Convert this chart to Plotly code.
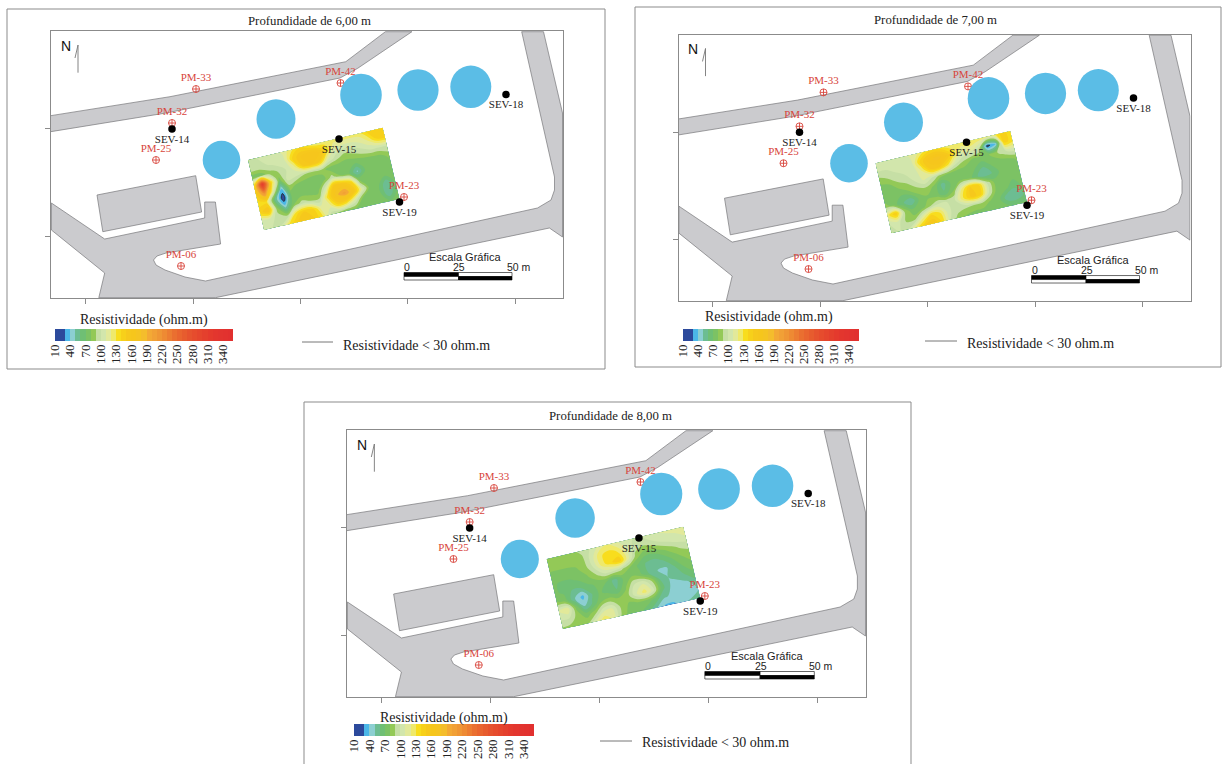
import numpy as np
import plotly.graph_objects as go

# ---- map features, in map units (shared by the three panels) ----
road_north_x = [50.6, 170, 345.8, 385.4, 411.9, 357.7, 340, 166, 50.6]
road_north_y = [115.7, 96.7, 61.7, 31.7, 31.7, 68.3, 78, 113, 131.7]
road_main_x = [521.7, 537.5, 554.5, 554.5, 551, 537.5, 205.5, 185, 165, 156, 153.5, 157, 166, 220.6, 215.4, 204.7, 204.7, 104.7, 51.4, 51.4, 104.7, 98.8, 215.4, 549.4, 562.5, 562.5, 543.5, 521.7]
road_main_y = [31.7, 103, 177, 190, 200, 208, 281, 277, 270, 265, 260, 256, 253, 244, 202, 202, 218, 239, 203, 230, 273, 297.7, 297.7, 228, 237, 113, 31.7, 31.7]
building_x = [97, 195.7, 201.6, 102.8, 97]
building_y = [195, 175.7, 212, 231.7, 195]

lake_x = [221.5, 276, 361, 418, 470.8]
lake_y = [160, 119, 95, 90, 86.8]
lake_rx = [18.8, 19.5, 20.8, 20.6, 20.5]
lake_ry = [19.2, 19.8, 21.3, 20.8, 21.2]

pm_names = ["PM-33", "PM-42", "PM-32", "PM-25", "PM-06", "PM-23"]
pm_x = [196, 340.5, 172, 156, 181, 404]
pm_y = [89, 83, 123, 160, 266, 197]
sev_names = ["SEV-14", "SEV-15", "SEV-18", "SEV-19"]
sev_x = [172, 339, 506, 399.5]
sev_y = [129, 139, 94.5, 202]

# survey block corners (NW, NE, SW, SE)
corner_nw = (248, 160)
corner_ne = (382.7, 127.7)
corner_sw = (264, 230)
corner_se = (399.5, 199)

# ---- resistivity (ohm.m): rows north to south, columns west to east ----
z_6m = [
 [100,100,105,105,112,125,140,130,122,125,125,125,125,125,140,150,150],
 [100,100,100,105,105,140,160,170,165,140,110,105,105,110,120,140,145],
 [74,72,85,90,100,115,150,160,150,110,95,85,90,95,100,100,100],
 [140,300,140,75,105,100,90,85,85,74,74,74,72,74,74,75,85],
 [150,210,115,40,85,75,72,72,75,95,80,72,48,72,74,74,74],
 [135,135,60,20,72,74,74,72,105,160,160,140,80,72,72,74,74],
 [145,160,85,45,80,95,90,90,135,175,195,165,115,74,72,50,72],
 [105,105,95,90,135,150,145,115,115,145,140,110,75,74,72,50,72],
 [105,100,100,130,150,160,150,130,95,85,75,75,75,74,74,72,72],
]
z_7m = [
 [105,105,105,108,112,120,135,140,130,125,125,128,128,125,125,145,135],
 [100,100,102,105,105,140,165,175,165,135,112,115,100,25,40,145,135],
 [85,90,98,100,102,120,150,155,135,105,90,80,78,80,90,100,105],
 [74,75,85,90,100,112,100,85,78,74,74,72,62,72,74,76,82],
 [74,72,72,78,85,88,78,55,72,78,78,62,50,62,74,74,74],
 [85,75,62,50,72,78,75,62,80,120,150,145,100,74,74,72,74],
 [125,150,90,72,74,88,100,100,100,130,155,145,100,74,72,62,72],
 [100,105,88,85,115,140,130,102,95,92,90,88,78,72,52,50,62],
 [100,100,98,125,150,160,140,100,85,78,74,74,74,74,72,72,72],
]
z_8m = [
 [85,85,85,88,92,100,112,120,112,105,100,100,108,110,112,112,115],
 [82,82,82,84,88,105,128,135,130,112,95,90,95,100,105,108,110],
 [78,78,78,78,85,102,125,138,148,115,85,72,72,78,85,92,95],
 [72,68,68,72,78,88,100,100,92,80,68,58,55,62,72,80,85],
 [72,68,60,60,68,72,70,55,72,80,72,58,50,48,60,72,78],
 [82,75,52,36,58,72,65,60,78,100,108,92,60,50,52,62,70],
 [110,120,78,48,62,80,85,80,85,108,125,105,65,50,48,48,58],
 [100,100,85,75,85,108,110,88,78,78,75,68,52,48,48,42,50],
 [88,85,82,88,112,128,115,85,75,72,65,50,38,38,48,52,55],
]

# ---- legend ----
legend_bins = [15 + 10 * k for k in range(35)]
legend_ticks = [10, 40, 70, 100, 130, 160, 190, 220, 250, 280, 310, 340]
legend_colors = ["#2c4a9c", "#2c4a9c", "#4bb7e8", "#8ccfd2", "#6cbd92", "#6fbf74", "#7cc264", "#93c957",
                 "#c6dfa5", "#d2e6ac", "#e2e99a", "#efe96a", "#f8dd1d", "#f7d01a", "#f6c81c", "#f6c61c",
                 "#f5c422", "#f4bd2c", "#f3a935", "#f1a036", "#ef9635", "#ee8a33", "#ec7d32", "#ea6f30",
                 "#e9652f", "#e75c2e", "#e6532e", "#e64c2d", "#e5462d", "#e4402d", "#e43a2d", "#e3362e",
                 "#e2342f", "#e2322f", "#e1302f"]

# ---- page layout in screen pixels ----
W, H = 1224, 764
SERIF = "Liberation Serif"
SANS = "Liberation Sans"
RED = "#d8453c"
GREY = "#8b8b8b"
panels = [
    dict(depth="Profundidade de 6,00 m", z=z_6m, outer=(7, 9, 605, 369), frame=(51, 31, 563, 298),
         title=(309, 21), bar=(55, 329, 233, 341), bar_title=(144, 320), line=(302, 333, 342), note=(341, 345)),
    dict(depth="Profundidade de 7,00 m", z=z_7m, outer=(635, 7, 1221, 367), frame=(678.5, 34.5, 1190.5, 301),
         title=(936, 20), bar=(683, 329, 859, 341), bar_title=(769, 317), line=(925, 957, 341), note=(965, 344)),
    dict(depth="Profundidade de 8,00 m", z=z_8m, outer=(304, 402, 911, 772), frame=(347, 430, 866, 697),
         title=(610, 416), bar=(354, 724, 534, 736), bar_title=(444, 718), line=(600, 632, 741), note=(640, 742)),
]
MAP_X = (51, 563)
MAP_Y = (298, 31)

colorscale = []
for k, c in enumerate(legend_colors):
    colorscale += [[k / 35, c], [(k + 1) / 35, c]]

a = list(range(17))
b = list(range(9))
A, B = np.meshgrid(np.array(a) / 16, np.array(b) / 8)
nw, ne, sw, se = map(np.array, (corner_nw, corner_ne, corner_sw, corner_se))
grid_x = (1 - A) * (1 - B) * nw[0] + A * (1 - B) * ne[0] + (1 - A) * B * sw[0] + A * B * se[0]
grid_y = (1 - A) * (1 - B) * nw[1] + A * (1 - B) * ne[1] + (1 - A) * B * sw[1] + A * B * se[1]


def px(x):
    return x / W


def py(y):
    return 1 - y / H


fig = go.Figure()
shapes = []
annotations = []
hidden_carpet_axis = dict(showgrid=False, showline=False, showticklabels="none", startline=False,
                          endline=False, minorgridcount=0)

for n, p in enumerate(panels):
    xm, ym = f"x{2*n+1}", f"y{2*n+1}"
    xl, yl = f"x{2*n+2}", f"y{2*n+2}"
    keyxm = f"xaxis{2*n+1}"
    keyym = f"yaxis{2*n+1}"
    keyxl = f"xaxis{2*n+2}"
    keyyl = f"yaxis{2*n+2}"
    fx0, fy0, fx1, fy1 = p["frame"]
    fig.update_layout({
        keyxm: dict(domain=[px(fx0), px(fx1)], range=list(MAP_X), anchor=ym, showgrid=False, zeroline=False,
                    showline=True, linecolor=GREY, linewidth=1, mirror=True, ticks="outside", ticklen=5,
                    tickcolor=GREY, showticklabels=False, tickvals=[85, 193, 300, 407.5, 515]),
        keyym: dict(domain=[py(fy1), py(fy0)], range=list(MAP_Y), anchor=xm, showgrid=False, zeroline=False,
                    showline=True, linecolor=GREY, linewidth=1, mirror=True, ticks="outside", ticklen=5,
                    tickcolor=GREY, showticklabels=False, tickvals=[128.7, 236]),
    })
    bx0, by0, bx1, by1 = p["bar"]
    fig.update_layout({
        keyxl: dict(domain=[px(bx0), px(bx1)], range=[10, 360], anchor=yl, showgrid=False, zeroline=False,
                    showline=False, ticks="", tickmode="array", tickvals=legend_ticks,
                    ticktext=[str(t) for t in legend_ticks], tickangle=-90,
                    tickfont=dict(family=SERIF, size=13, color="#222"), automargin=False),
        keyyl: dict(domain=[py(by1), py(by0)], range=[-0.5, 0.5], anchor=xl, visible=False),
    })

    for rx, ry in ((road_north_x, road_north_y), (road_main_x, road_main_y), (building_x, building_y)):
        fig.add_trace(go.Scatter(x=rx, y=ry, xaxis=xm, yaxis=ym, mode="lines", fill="toself",
                                 fillcolor="#cbcbce", line=dict(color="#77777a", width=0.7),
                                 hoverinfo="skip", showlegend=False))
    for cx, cy, rx, ry in zip(lake_x, lake_y, lake_rx, lake_ry):
        shapes.append(dict(type="circle", xref=xm, yref=ym, x0=cx - rx, x1=cx + rx, y0=cy - ry, y1=cy + ry,
                           fillcolor="#5bbde6", line=dict(width=0), layer="above"))

    cid = f"c{n}"
    fig.add_trace(go.Carpet(a=a, b=b, x=grid_x.tolist(), y=grid_y.tolist(), carpet=cid, xaxis=xm, yaxis=ym,
                            aaxis=hidden_carpet_axis, baxis=hidden_carpet_axis))
    fig.add_trace(go.Contourcarpet(a=a, b=b, z=p["z"], carpet=cid, xaxis=xm, yaxis=ym, autocontour=False,
                                   contours=dict(start=10, end=350, size=10, coloring="fill", showlines=False),
                                   line=dict(width=0), colorscale=colorscale, zmin=10, zmax=360,
                                   showscale=False))
    fig.add_trace(go.Contourcarpet(a=a, b=b, z=p["z"], carpet=cid, xaxis=xm, yaxis=ym, autocontour=False,
                                   contours=dict(start=30, end=30, size=10, coloring="lines"),
                                   line=dict(width=0.8, color="#222"), colorscale=[[0, "#222"], [1, "#222"]],
                                   showscale=False))

    fig.add_trace(go.Scatter(x=pm_x, y=pm_y, text=pm_names, xaxis=xm, yaxis=ym, mode="markers+text",
                             textposition="top center", textfont=dict(family=SERIF, size=11, color=RED),
                             marker=dict(symbol="circle-cross-open", size=7, color=RED, line=dict(width=0.9, color=RED)),
                             hoverinfo="skip", showlegend=False, cliponaxis=False))
    fig.add_trace(go.Scatter(x=sev_x, y=sev_y, text=sev_names, xaxis=xm, yaxis=ym, mode="markers+text",
                             textposition="bottom center", textfont=dict(family=SERIF, size=11, color="#222"),
                             marker=dict(symbol="circle", size=7.5, color="#000"),
                             hoverinfo="skip", showlegend=False, cliponaxis=False))
    fig.add_trace(go.Scatter(x=[78, 78, 75], y=[72.7, 45, 58], xaxis=xm, yaxis=ym, mode="lines",
                             line=dict(color="#777", width=0.9), hoverinfo="skip", showlegend=False))
    annotations.append(dict(x=72.5, y=46, xref=xm, yref=ym, text="N", showarrow=False, yanchor="middle",
                            font=dict(family=SANS, size=14, color="#111"), xanchor="right"))

    # scale bar
    for (x0, x1, y0, y1, fill) in ((404, 458.5, 272.5, 276.5, "#000"), (458.5, 512, 272.5, 276.5, "#fff"),
                                   (404, 458.5, 276.5, 280, "#fff"), (458.5, 512, 276.5, 280, "#000")):
        shapes.append(dict(type="rect", xref=xm, yref=ym, x0=x0, x1=x1, y0=y0, y1=y1, fillcolor=fill,
                           line=dict(color="#000", width=0.6), layer="above"))
    annotations.append(dict(x=465, y=257, xref=xm, yref=ym, text="Escala Gráfica", showarrow=False,
                            xanchor="center", yanchor="middle",
                            font=dict(family=SANS, size=11, color="#222")))
    for tx, label, anc in ((407, "0", "center"), (459, "25", "center"), (505, "50 m", "left")):
        annotations.append(dict(x=tx, y=267, xref=xm, yref=ym, text=label, showarrow=False, xanchor=anc,
                                yanchor="middle", font=dict(family=SANS, size=10.5, color="#222")))

    fig.add_trace(go.Heatmap(x=legend_bins, y=[0], z=[legend_bins], xaxis=xl, yaxis=yl, colorscale=colorscale,
                             zmin=10, zmax=360, showscale=False, hoverinfo="skip"))

    ox0, oy0, ox1, oy1 = p["outer"]
    shapes.append(dict(type="rect", xref="paper", yref="paper", x0=px(ox0), x1=px(ox1), y0=py(oy1), y1=py(oy0),
                       line=dict(color=GREY, width=1), fillcolor="rgba(0,0,0,0)", layer="below"))
    lx0, lx1, ly = p["line"]
    shapes.append(dict(type="line", xref="paper", yref="paper", x0=px(lx0), x1=px(lx1), y0=py(ly), y1=py(ly),
                       line=dict(color="#777", width=1)))
    annotations.append(dict(x=px(p["note"][0]), y=py(p["note"][1]), xref="paper", yref="paper", xanchor="left",
                            yanchor="middle", text="Resistividade &lt; 30 ohm.m", showarrow=False,
                            font=dict(family=SERIF, size=14, color="#222")))
    annotations.append(dict(x=px(p["title"][0]), y=py(p["title"][1]), xref="paper", yref="paper",
                            xanchor="center", yanchor="middle", text=p["depth"], showarrow=False,
                            font=dict(family=SERIF, size=12.8, color="#222")))
    annotations.append(dict(x=px(p["bar_title"][0]), y=py(p["bar_title"][1]), xref="paper", yref="paper",
                            xanchor="center", yanchor="middle", text="Resistividade (ohm.m)", showarrow=False,
                            font=dict(family=SERIF, size=14, color="#222")))

fig.update_layout(width=W, height=H, margin=dict(l=0, r=0, t=0, b=0), paper_bgcolor="#fff", plot_bgcolor="#fff",
                  showlegend=False, shapes=shapes, annotations=annotations)
fig.write_html("out.html", config={"displayModeBar": False},
               post_script="document.body.style.margin='0';document.documentElement.style.overflow='hidden';")
